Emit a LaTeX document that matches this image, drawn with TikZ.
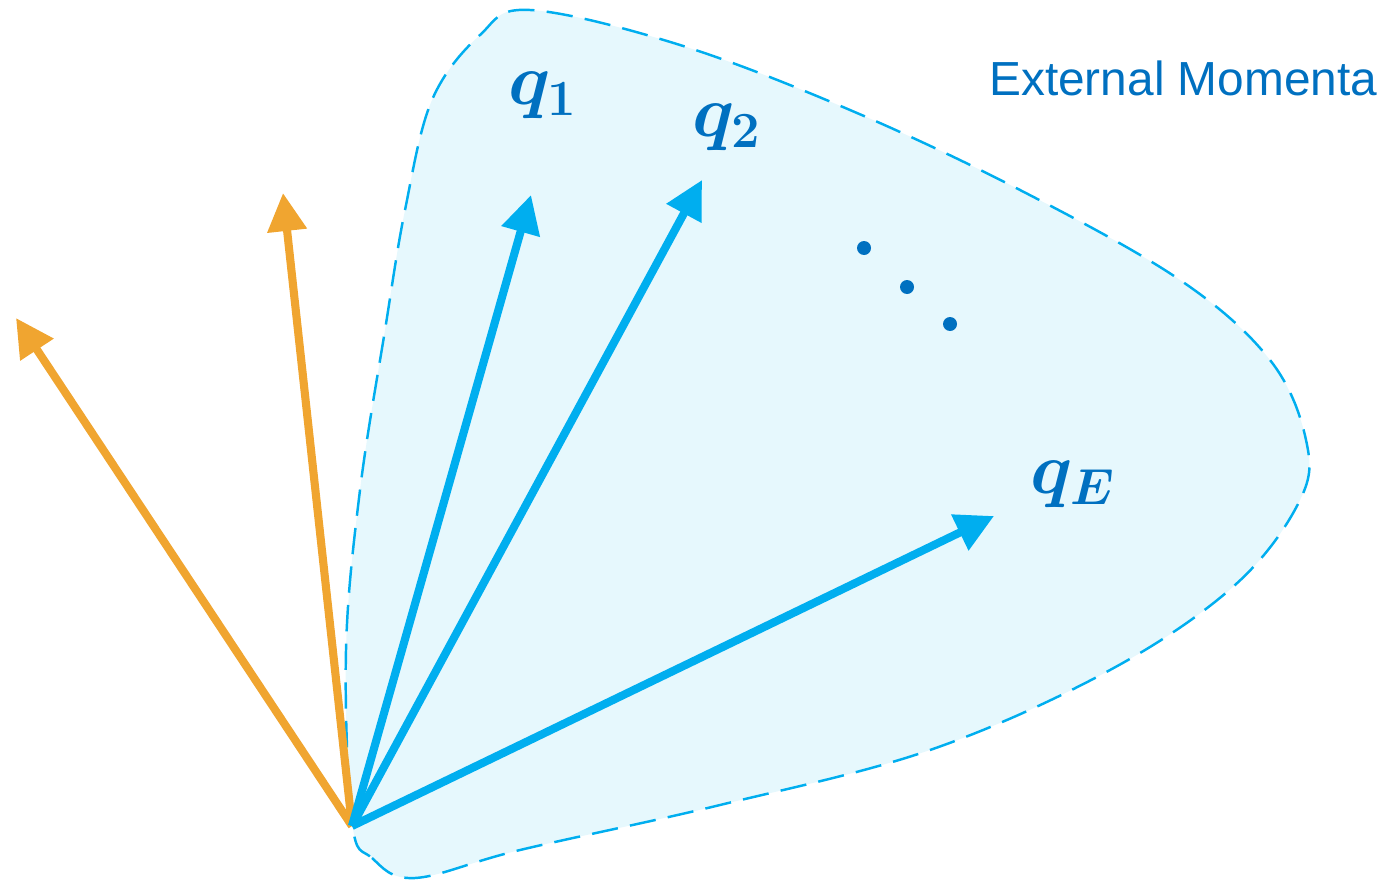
\documentclass[tikz,border=0pt]{standalone}
\usepackage{fontspec}
\setsansfont{Liberation Sans}
\usepackage{amsmath}
\usepackage{bm}
\usepackage{tikz}
\usetikzlibrary{positioning, arrows.meta}
\definecolor{qblue}{HTML}{00AEEF}
\definecolor{qlabel}{HTML}{0070C0}
\definecolor{qorange}{HTML}{F0A530}
\definecolor{qfill}{HTML}{E6F8FD}

\begin{document}
\begin{tikzpicture}[x=0.01cm, y=-0.01cm,
  mom/.style={line width=2.3pt, -{Triangle[length=0.38cm, width=0.38cm]}},
  lbl/.style={text=qlabel, font=\fontsize{21}{24}\selectfont\boldmath}]
\useasboundingbox (0,0) rectangle (1386,882);
% Region
\draw[qblue, fill=qfill, dash pattern=on 7.5pt off 3.5pt, line width=0.7pt]
  plot[smooth cycle, tension=0.6] coordinates {(352,822) (372,858) (415,878) (520,850) (720,805) (930,750)
  (1110,670) (1235,585) (1300,500) (1306,440) (1270,360) (1180,280) (1020,190) (850,110) (680,45)
  (530,10) (480,35) (432,100) (405,210) (385,330) (360,490) (346,650)};
% Nodes
\coordinate (o) at (352,826);
\coordinate (a1) at (16,318);
\coordinate (a2) at (283,193);
\coordinate (b1) at (531,195);
\coordinate (b2) at (702,180);
\coordinate (bE) at (994,516);
\node[lbl] (q1) at (543,95) {$q_1$};
\node[lbl] (q2) at (727,127) {$q_2$};
\node[lbl] (qE) at (1073,484) {$q_E$};
\node[text=qlabel, font=\sffamily\fontsize{13.6}{16}\selectfont, anchor=east, inner sep=0pt] (ext) at (1378,78) {External Momenta};
\foreach \x/\y [count=\i] in {864/248, 907/287, 950/324}
  \fill[qlabel] (\x,\y) circle (7) coordinate (dot\i);

% Edges
\draw[mom, qorange] (o) -- (a1);
\draw[mom, qorange] (o) -- (a2);
\draw[mom, qblue] (o) -- (b1);
\draw[mom, qblue] (o) -- (b2);
\draw[mom, qblue] (o) -- (bE);

\end{tikzpicture}
\end{document}
